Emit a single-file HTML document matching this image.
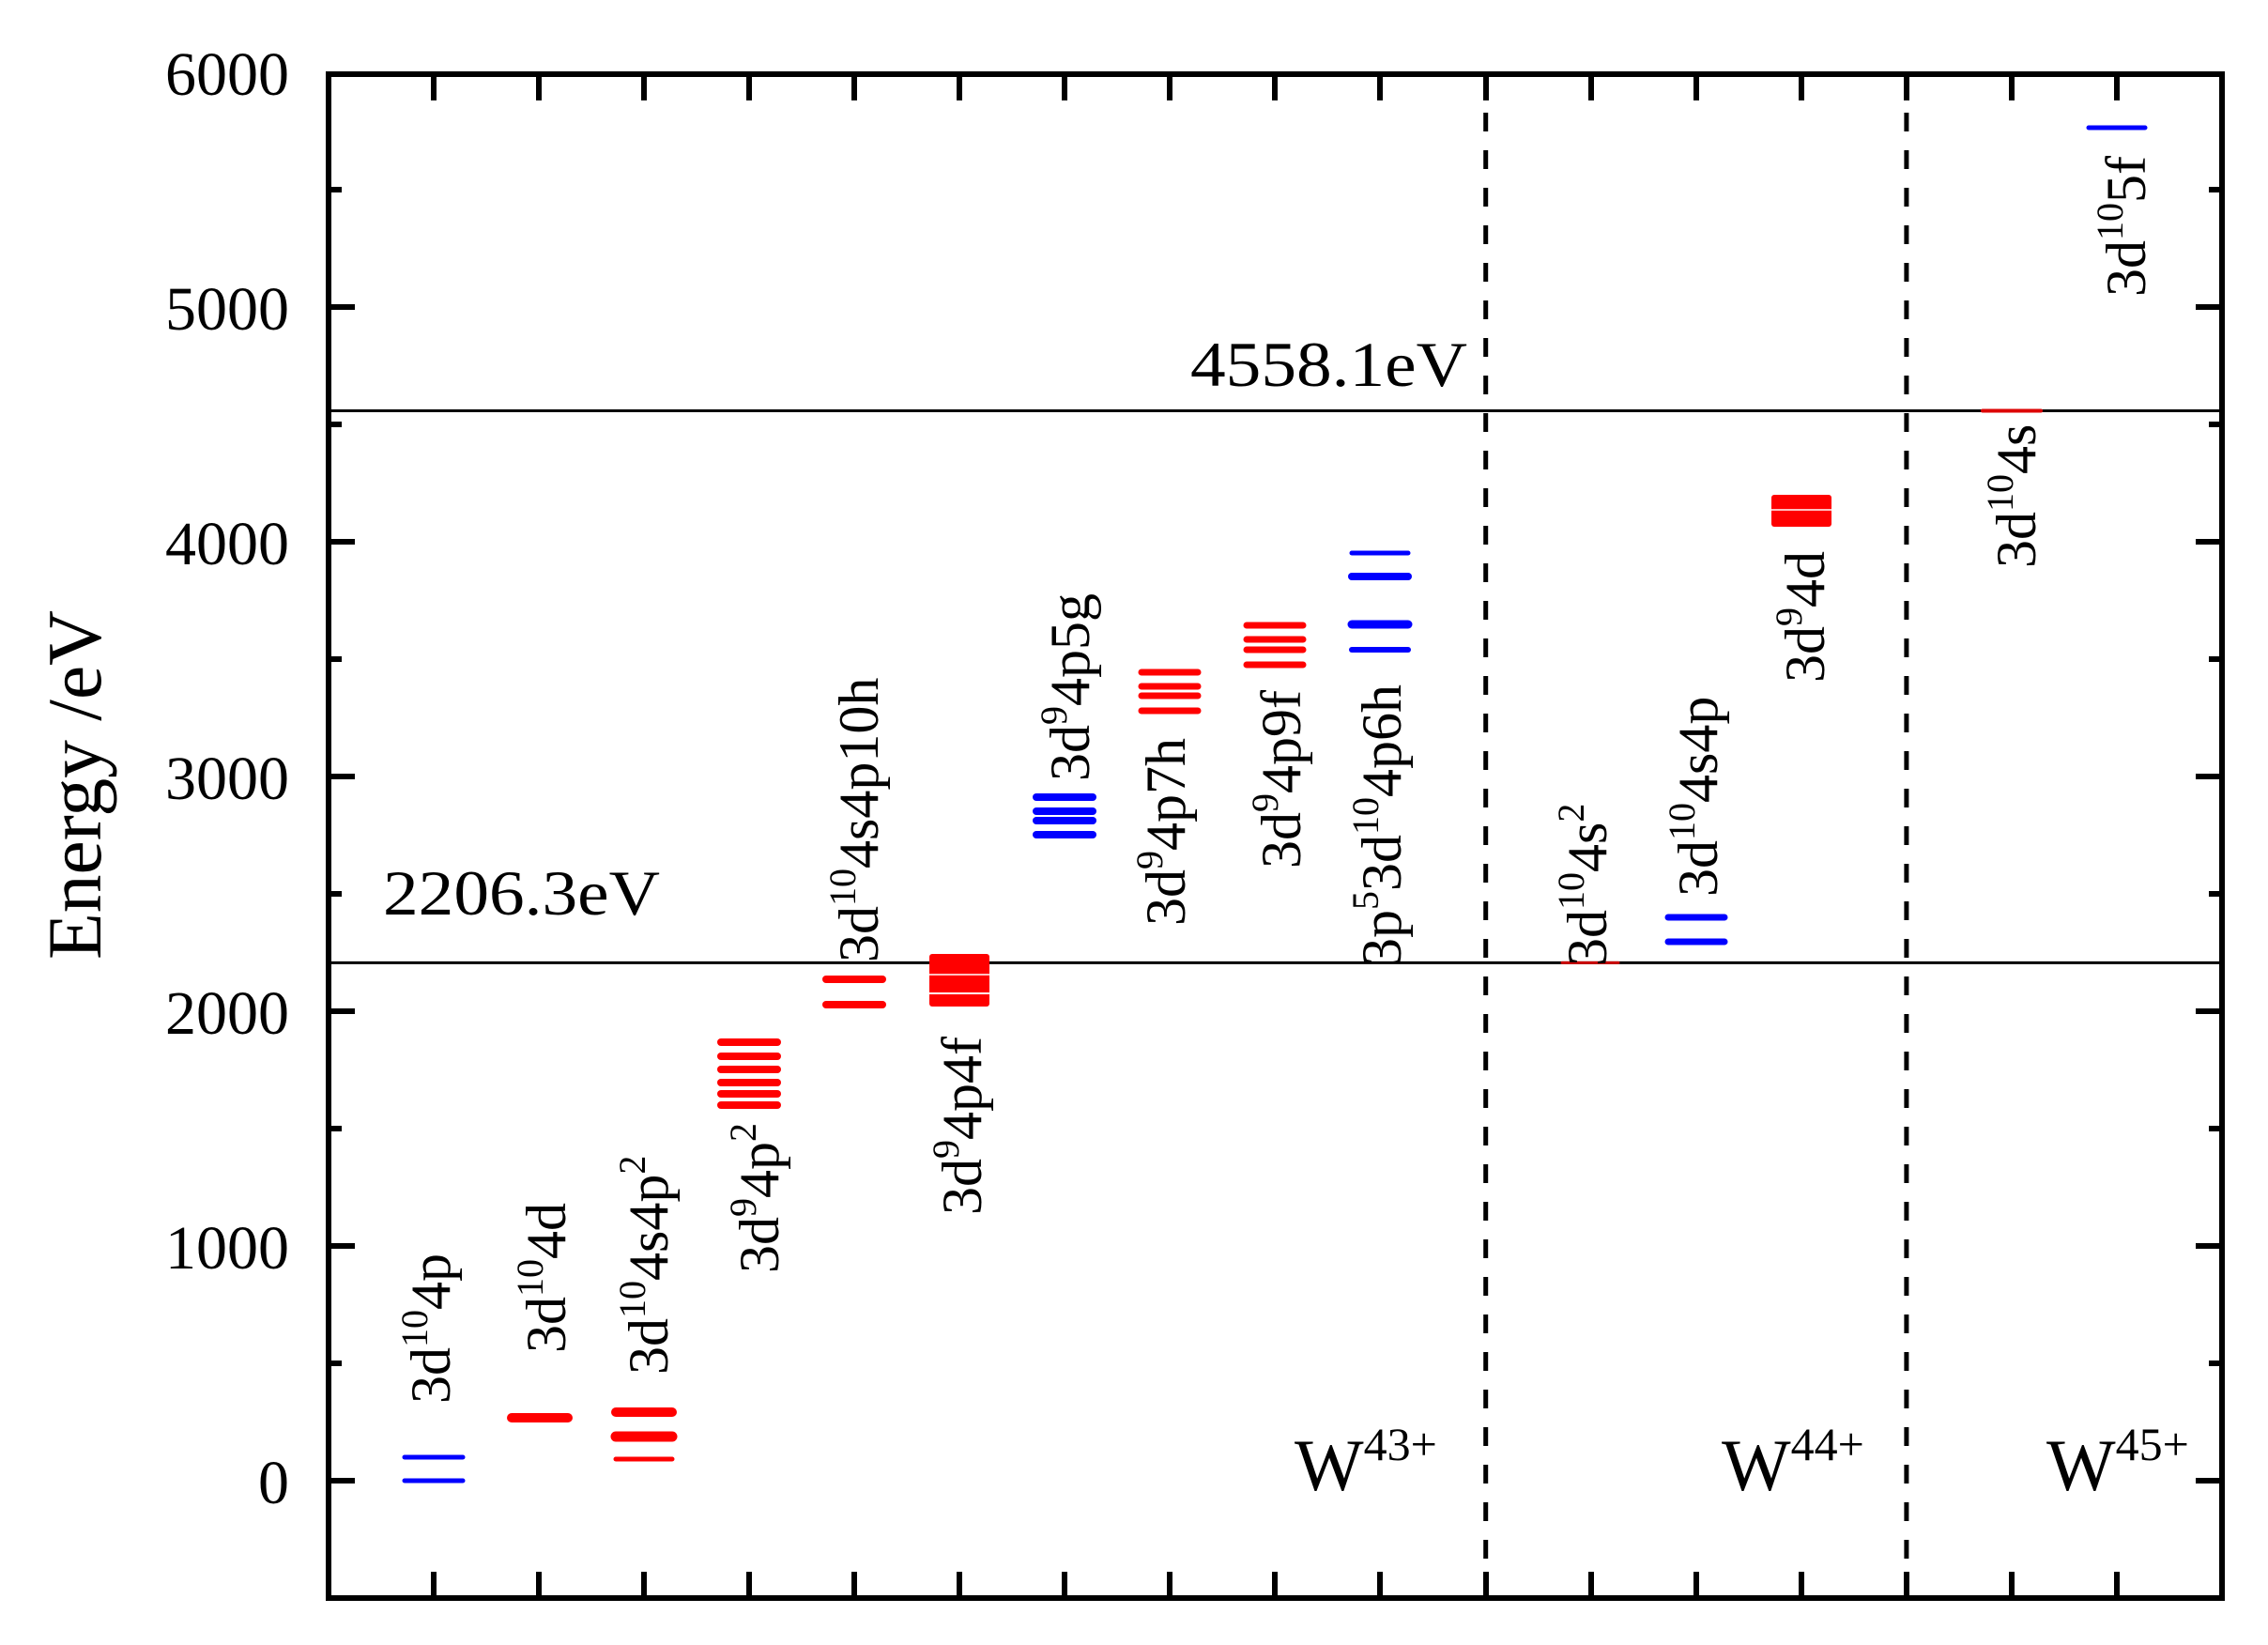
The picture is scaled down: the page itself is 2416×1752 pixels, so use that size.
<!DOCTYPE html>
<html><head><meta charset="utf-8"><style>
html,body{margin:0;padding:0;background:#fff;}
svg{display:block;}
text,tspan{font-family:"Liberation Serif","Times New Roman",serif;fill:#000;}
</style></head><body>
<svg width="2416" height="1752" viewBox="0 0 2416 1752" xmlns="http://www.w3.org/2000/svg" font-family="Liberation Serif, serif">
<line x1="350" y1="437.5" x2="2367" y2="437.5" stroke="#000" stroke-width="3"/>
<line x1="350" y1="1025.4" x2="2367" y2="1025.4" stroke="#000" stroke-width="3"/>
<line x1="1582.7" y1="80" x2="1582.7" y2="1700" stroke="#000" stroke-width="5" stroke-dasharray="20,20"/>
<line x1="2030.9" y1="80" x2="2030.9" y2="1700" stroke="#000" stroke-width="5" stroke-dasharray="20,20"/>
<g stroke-linecap="round">
<g stroke="#0000ff" stroke-width="5"><line x1="431" x2="493" y1="1552" y2="1552"/><line x1="431" x2="493" y1="1577" y2="1577"/></g>
<g stroke="#ff0000" stroke-width="10"><line x1="545" x2="605" y1="1510" y2="1510"/></g>
<g stroke="#ff0000"><line x1="656" x2="716" y1="1504" y2="1504" stroke-width="10"/><line x1="656" x2="716" y1="1530" y2="1530" stroke-width="11"/><line x1="656" x2="716" y1="1554" y2="1554" stroke-width="5"/></g>
<g stroke="#ff0000" stroke-width="8"><line x1="768" x2="828" y1="1110" y2="1110"/><line x1="768" x2="828" y1="1125" y2="1125"/><line x1="768" x2="828" y1="1139" y2="1139"/><line x1="768" x2="828" y1="1153" y2="1153"/><line x1="768" x2="828" y1="1165" y2="1165"/><line x1="768" x2="828" y1="1177" y2="1177"/></g>
<g stroke="#ff0000" stroke-width="8"><line x1="880" x2="940" y1="1043" y2="1043"/><line x1="880" x2="940" y1="1070" y2="1070"/></g>
<rect x="990" y="1016" width="64" height="56" fill="#ff0000" rx="3"/>
<line x1="990" x2="1054" y1="1038" y2="1038" stroke="#fff" stroke-width="1.5"/>
<line x1="990" x2="1054" y1="1058" y2="1058" stroke="#fff" stroke-width="2"/>
<g stroke="#0000ff" stroke-width="8"><line x1="1104" x2="1164" y1="849" y2="849"/><line x1="1104" x2="1164" y1="864" y2="864"/><line x1="1104" x2="1164" y1="874" y2="874"/><line x1="1104" x2="1164" y1="889" y2="889"/></g>
<g stroke="#ff0000" stroke-width="7"><line x1="1216" x2="1276" y1="716" y2="716"/><line x1="1216" x2="1276" y1="731" y2="731"/><line x1="1216" x2="1276" y1="741" y2="741"/><line x1="1216" x2="1276" y1="757" y2="757"/></g>
<g stroke="#ff0000" stroke-width="7"><line x1="1328" x2="1388" y1="666" y2="666"/><line x1="1328" x2="1388" y1="681" y2="681"/><line x1="1328" x2="1388" y1="692" y2="692"/><line x1="1328" x2="1388" y1="708" y2="708"/></g>
<g stroke="#0000ff"><line x1="1440" x2="1500" y1="589" y2="589" stroke-width="5"/><line x1="1440" x2="1500" y1="614" y2="614" stroke-width="8"/><line x1="1440" x2="1500" y1="665" y2="665" stroke-width="9"/><line x1="1440" x2="1500" y1="692" y2="692" stroke-width="6"/></g>
<line x1="1664" x2="1724" y1="1025.4" y2="1025.4" stroke="#cc0000" stroke-width="3"/>
<g stroke="#0000ff" stroke-width="7"><line x1="1777" x2="1837" y1="977" y2="977"/><line x1="1777" x2="1837" y1="1003" y2="1003"/></g>
<rect x="1887" y="527" width="64" height="34" fill="#ff0000" rx="3"/>
<line x1="1887" x2="1951" y1="543" y2="543" stroke="#fff" stroke-width="1.5"/>
<line x1="2112" x2="2174" y1="437.5" y2="437.5" stroke="#dd0000" stroke-width="4"/>
<line x1="2225" x2="2285" y1="136" y2="136" stroke="#0000ff" stroke-width="5"/>
</g>
<rect x="350" y="79" width="2017" height="1623" fill="none" stroke="#000" stroke-width="6"/>
<g stroke="#000" stroke-width="6">
<path d="M350 79h28M350 327h28M350 577h28M350 827h28M350 1077h28M350 1327h28M350 1577h28 M2367 79h-28M2367 327h-28M2367 577h-28M2367 827h-28M2367 1077h-28M2367 1327h-28M2367 1577h-28"/>
<path d="M350 202h14M350 452h14M350 702h14M350 952h14M350 1202h14M350 1452h14M350 1702h14 M2367 202h-14M2367 452h-14M2367 702h-14M2367 952h-14M2367 1202h-14M2367 1452h-14"/>
<path d="M462 1702v-28M574 1702v-28M686 1702v-28M798 1702v-28M910 1702v-28M1022 1702v-28M1134 1702v-28M1246 1702v-28M1358 1702v-28M1470 1702v-28M1583 1702v-28M1695 1702v-28M1807 1702v-28M1919 1702v-28M2031 1702v-28M2143 1702v-28M2255 1702v-28
M462 79v28M574 79v28M686 79v28M798 79v28M910 79v28M1022 79v28M1134 79v28M1246 79v28M1358 79v28M1470 79v28M1583 79v28M1695 79v28M1807 79v28M1919 79v28M2031 79v28M2143 79v28M2255 79v28"/>
</g>
<g font-size="66" text-anchor="end">
<text x="308" y="101">6000</text><text x="308" y="351">5000</text><text x="308" y="601">4000</text><text x="308" y="851">3000</text><text x="308" y="1101">2000</text><text x="308" y="1351">1000</text><text x="308" y="1601">0</text>
</g>
<text transform="translate(107,1022) rotate(-90)" font-size="82" textLength="372" lengthAdjust="spacingAndGlyphs">Energy /eV</text>
<text x="1268" y="411" font-size="68" textLength="295" lengthAdjust="spacingAndGlyphs">4558.1eV</text>
<text x="408" y="974" font-size="68" textLength="295" lengthAdjust="spacingAndGlyphs">2206.3eV</text>
<text x="1379" y="1587" font-size="78">W<tspan font-size="50" dy="-32">43+</tspan></text>
<text x="1834" y="1587" font-size="78">W<tspan font-size="50" dy="-32">44+</tspan></text>
<text x="2180" y="1587" font-size="78">W<tspan font-size="50" dy="-32">45+</tspan></text>
<g font-size="60">
<text transform="translate(479,1495) rotate(-90)">3d<tspan font-size="40" dy="-24">10</tspan><tspan dy="24">4p</tspan></text>
<text transform="translate(602,1441) rotate(-90)">3d<tspan font-size="40" dy="-24">10</tspan><tspan dy="24">4d</tspan></text>
<text transform="translate(711,1464) rotate(-90)">3d<tspan font-size="40" dy="-24">10</tspan><tspan dy="24">4s4p</tspan><tspan font-size="40" dy="-24">2</tspan></text>
<text transform="translate(829,1356) rotate(-90)">3d<tspan font-size="40" dy="-24">9</tspan><tspan dy="24">4p</tspan><tspan font-size="40" dy="-24">2</tspan></text>
<text transform="translate(935,1025) rotate(-90)">3d<tspan font-size="40" dy="-24">10</tspan><tspan dy="24">4s4p10h</tspan></text>
<text transform="translate(1045,1294) rotate(-90)">3d<tspan font-size="40" dy="-24">9</tspan><tspan dy="24">4p4f</tspan></text>
<text transform="translate(1160,832) rotate(-90)">3d<tspan font-size="40" dy="-24">9</tspan><tspan dy="24">4p5g</tspan></text>
<text transform="translate(1262,986) rotate(-90)">3d<tspan font-size="40" dy="-24">9</tspan><tspan dy="24">4p7h</tspan></text>
<text transform="translate(1385,925) rotate(-90)">3d<tspan font-size="40" dy="-24">9</tspan><tspan dy="24">4p9f</tspan></text>
<text transform="translate(1492,1029) rotate(-90)">3p<tspan font-size="40" dy="-24">5</tspan><tspan dy="24">3d</tspan><tspan font-size="40" dy="-24">10</tspan><tspan dy="24">4p6h</tspan></text>
<text transform="translate(1711,1029) rotate(-90)">3d<tspan font-size="40" dy="-24">10</tspan><tspan dy="24">4s</tspan><tspan font-size="40" dy="-24">2</tspan></text>
<text transform="translate(1829,955) rotate(-90)">3d<tspan font-size="40" dy="-24">10</tspan><tspan dy="24">4s4p</tspan></text>
<text transform="translate(1943,727) rotate(-90)">3d<tspan font-size="40" dy="-24">9</tspan><tspan dy="24">4d</tspan></text>
<text transform="translate(2168,605) rotate(-90)">3d<tspan font-size="40" dy="-24">10</tspan><tspan dy="24">4s</tspan></text>
<text transform="translate(2285,316) rotate(-90)">3d<tspan font-size="40" dy="-24">10</tspan><tspan dy="24">5f</tspan></text>
</g>
</svg>
</body></html>
